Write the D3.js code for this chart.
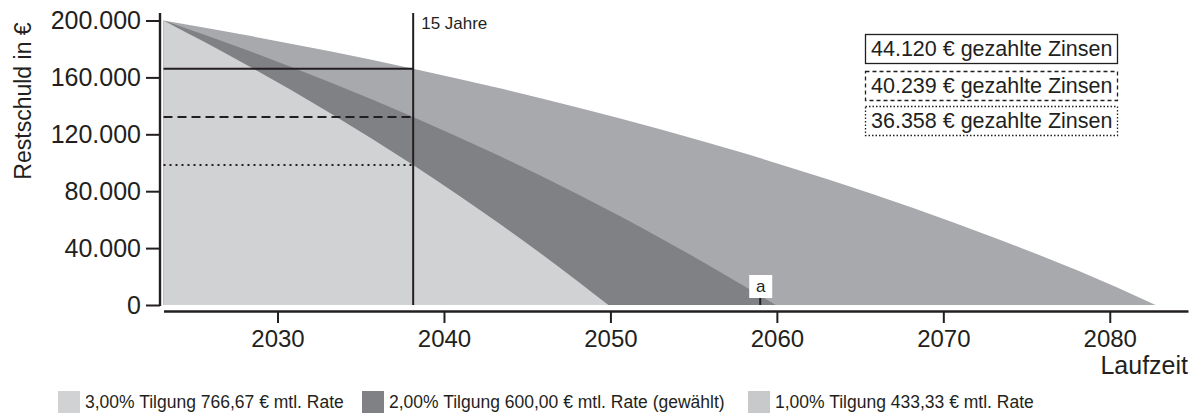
<!DOCTYPE html>
<html>
<head>
<meta charset="utf-8">
<script src="https://cdn.jsdelivr.net/npm/d3@7"></script>
<style>
    body { margin: 0; background: #fff; }
    svg text { font-family: "Liberation Sans", Arial, sans-serif; fill: #231f20; }
</style>
</head>
<body>
<div class="svg-container"><svg id="restschuld"></svg></div>
<script>
const WIDTH = 1192,
      HEIGHT = 417;

// Laufzeit in Jahren ab Darlehensbeginn, Restschuld in €
const startYear = 2023.15;

const years3 = [0, 5, 10, 15, 20, 25, 26.73];
const rest3  = [200000, 168789, 134979, 98364, 58685, 15725, 0];

const years2 = [0, 5, 10, 15, 20, 25, 30, 35, 36.77];
const rest2  = [200000, 179192, 156652, 132243, 105790, 77150, 46130, 12512, 0];

const years1 = [0, 5, 10, 15, 20, 25, 30, 35, 40, 45, 50, 55, 59.6];
const rest1  = [200000, 189596, 178326, 166121, 152895, 138575, 123065, 106256, 88049, 68326, 46954, 23817, 0];

const markYears = 15;
const markValues = [166121, 132243, 98364];
const zinsenLabels = ["44.120 € gezahlte Zinsen", "40.239 € gezahlte Zinsen", "36.358 € gezahlte Zinsen"];
const legendLabels = ["3,00% Tilgung 766,67 € mtl. Rate", "2,00% Tilgung 600,00 € mtl. Rate (gewählt)", "1,00% Tilgung 433,33 € mtl. Rate"];
const xTicks = [2030, 2040, 2050, 2060, 2070, 2080];
const yTicks = [0, 40000, 80000, 120000, 160000, 200000];
const aYear = 2059;

const areaColors = { t3: "#d1d2d4", t2: "#808184", t1: "#a7a9ac" };
const legendColors = ["#d1d2d4", "#808184", "#c8c9cb"];
const ink = "#231f20";

const de = d3.formatLocale({ decimal: ",", thousands: ".", grouping: [3], currency: ["", " €"] });

const svg = d3.select("svg#restschuld")
                .attr("width", WIDTH)
                .attr("height", HEIGHT);

const xScale = d3.scaleLinear()
                .domain([startYear, 2084.7])
                .range([163.5, 1188]);

const yScale = d3.scaleLinear()
                .domain([0, 200000])
                .range([305, 20.5]);

const toPoints = (ys, vs) => ys.map((t, i) => ({ x: startYear + t, y: vs[i] }));

const area = d3.area()
                .x((d) => xScale(d.x))
                .y0(yScale(0))
                .y1((d) => yScale(d.y))
                .curve(d3.curveMonotoneX);

// hinten die längste Laufzeit, vorne die kürzeste
svg.append("path").attr("d", area(toPoints(years1, rest1))).attr("fill", areaColors.t1);
svg.append("path").attr("d", area(toPoints(years2, rest2))).attr("fill", areaColors.t2);
svg.append("path").attr("d", area(toPoints(years3, rest3))).attr("fill", areaColors.t3);

// Markierung nach 15 Jahren
const markX = xScale(startYear + markYears);
const dashes = [null, "9,5", "2,4"];

markValues.forEach((v, i) => {
    svg.append("line")
        .attr("x1", xScale(startYear))
        .attr("x2", markX)
        .attr("y1", yScale(v))
        .attr("y2", yScale(v))
        .attr("stroke", ink)
        .attr("stroke-width", 2)
        .attr("stroke-dasharray", dashes[i]);
});

svg.append("line")
    .attr("x1", markX).attr("x2", markX)
    .attr("y1", 13).attr("y2", yScale(0))
    .attr("stroke", ink)
    .attr("stroke-width", 2);

svg.append("text")
    .attr("x", markX + 8)
    .attr("y", 29)
    .style("font-size", "17px")
    .text("15 Jahre");

// Marker a
const aX = xScale(aYear);
svg.append("line")
    .attr("x1", aX).attr("x2", aX)
    .attr("y1", 297).attr("y2", yScale(0))
    .attr("stroke", ink)
    .attr("stroke-width", 2);
svg.append("rect")
    .attr("x", aX - 11).attr("y", 275)
    .attr("width", 23).attr("height", 23)
    .attr("fill", "#fff");
svg.append("text")
    .attr("x", aX + 0.5)
    .attr("y", 292)
    .style("font-size", "17px")
    .style("text-anchor", "middle")
    .text("a");

// Achsen
const xAxis = svg.append("g")
                .attr("transform", `translate(0, 311)`)
                .call(d3.axisBottom(xScale).tickValues(xTicks).tickFormat(d3.format("d"))
                        .tickSize(12).tickSizeOuter(0).tickPadding(7));

xAxis.select(".domain").attr("stroke", ink).attr("stroke-width", 2.4);
xAxis.selectAll(".tick line").attr("stroke", ink).attr("stroke-width", 2);
xAxis.selectAll("text").style("font-size", "24px").attr("fill", ink);

const yAxis = svg.append("g")
                .attr("transform", `translate(160, 0)`)
                .call(d3.axisLeft(yScale).tickValues(yTicks).tickFormat(de.format(",.0f"))
                        .tickSize(14).tickSizeOuter(0).tickPadding(5));

yAxis.select(".domain").remove();
yAxis.selectAll(".tick line").attr("stroke", ink).attr("stroke-width", 2);
yAxis.selectAll("text").style("font-size", "25px").attr("fill", ink);

svg.append("line")
    .attr("x1", 160).attr("x2", 160)
    .attr("y1", 13).attr("y2", 306)
    .attr("stroke", ink)
    .attr("stroke-width", 2.4);

svg.append("text")
    .attr("transform", `translate(31, 101) rotate(-90)`)
    .style("font-size", "23px")
    .style("text-anchor", "middle")
    .text("Restschuld in €");

svg.append("text")
    .attr("x", 1188)
    .attr("y", 374)
    .style("font-size", "25px")
    .style("text-anchor", "end")
    .text("Laufzeit");

// Zinsboxen
const boxY = [34, 71, 106];
const boxDash = [null, "4,3", "1.5,2"];

zinsenLabels.forEach((label, i) => {
    svg.append("rect")
        .attr("x", 865.5)
        .attr("y", boxY[i] + 0.5)
        .attr("width", 252)
        .attr("height", 29)
        .attr("fill", "#fff")
        .attr("stroke", ink)
        .attr("stroke-width", 1.3)
        .attr("stroke-dasharray", boxDash[i]);
    svg.append("text")
        .attr("x", 871)
        .attr("y", boxY[i] + 22)
        .style("font-size", "21.5px")
        .text(label);
});

// Legende
const legendX = [58, 362, 748];

legendLabels.forEach((label, i) => {
    svg.append("rect")
        .attr("x", legendX[i])
        .attr("y", 391)
        .attr("width", 22)
        .attr("height", 22)
        .attr("fill", legendColors[i]);
    svg.append("text")
        .attr("x", legendX[i] + 27)
        .attr("y", 408)
        .style("font-size", "17.5px")
        .text(label);
});
</script>
</body>
</html>
